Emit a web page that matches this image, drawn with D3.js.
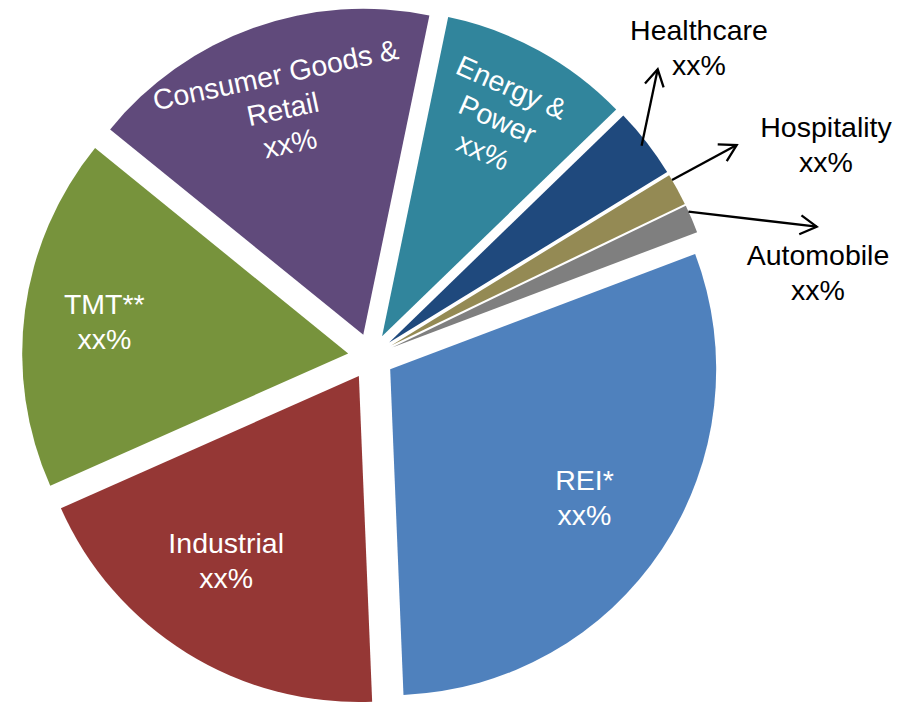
<!DOCTYPE html>
<html>
<head>
<meta charset="utf-8">
<script src="https://cdn.jsdelivr.net/npm/d3@7/dist/d3.min.js"></script>
<style>
  html, body { margin: 0; padding: 0; background: #fff; }
  svg { display: block; }
  text { font-family: "Liberation Sans", Arial, Helvetica, sans-serif; }
</style>
</head>
<body>
<svg id="chart" width="906" height="703"></svg>
<script>
// Sector split of the portfolio (percent of total)
const categories = ["REI*", "Industrial", "TMT**", "Consumer Goods & Retail",
                    "Energy & Power", "Healthcare", "Hospitality", "Automobile"];
const shares = [30.1, 19.0, 17.5, 17.4, 9.5, 3.5, 1.6, 1.4];
// Text shown for each slice's share
const shareLabels = ["xx%", "xx%", "xx%", "xx%", "xx%", "xx%", "xx%", "xx%"];
// How each category name is broken into lines
const nameLines = [["REI*"], ["Industrial"], ["TMT**"], ["Consumer Goods &", "Retail"],
                   ["Energy &", "Power"], ["Healthcare"], ["Hospitality"], ["Automobile"]];
const colors = ["#4F81BD", "#953735", "#77933C", "#604A7B",
                "#31859C", "#1F497D", "#948A54", "#7F7F7F"];

// ---- layout ----
const W = 906, H = 703;
const cx = 371, cy = 356.5;      // pie centre
const R = 326;                   // slice radius
const explode = 23;              // every slice pulled out by this much
const startDeg = 69.3;           // first slice starts here (clockwise from 12 o'clock)
const fontSize = 28.5;
const lineH = 35;

// label placement: inside labels sit along the slice, outside ones get an arrow
const labelLayout = {
  "REI*":                    { inside: true, r: 233, da: 0,   rot: 0 },
  "Industrial":              { inside: true, r: 227, da: 3.9, rot: 0 },
  "TMT**":                   { inside: true, r: 246, da: 0,   rot: 0 },
  "Consumer Goods & Retail": { inside: true, r: 240, da: 0,   rot: -12 },
  "Energy & Power":          { inside: true, r: 246, da: -0.8, rot: 24 },
  "Healthcare":  { inside: false, x: 699, y: 40,  t: 0.49, rr: 320, tip: [657.7, 69.3] },
  "Hospitality": { inside: false, x: 826, y: 137, t: 0.17, rr: 326, tip: [736.7, 145] },
  "Automobile":  { inside: false, x: 818, y: 265, t: 0.22, rr: 326, tip: [816.7, 226.7] }
};

const rad = d => d * Math.PI / 180;
// unit vector for an angle measured clockwise from 12 o'clock
const dir = a => [Math.sin(a), -Math.cos(a)];

const svg = d3.select("#chart");
const root = svg.append("g").attr("transform", `translate(${cx},${cy})`);

const pie = d3.pie()
  .sort(null)
  .value(d => d.value)
  .startAngle(rad(startDeg))
  .endAngle(rad(startDeg) + 2 * Math.PI);

const data = categories.map((c, i) => ({
  name: c, value: shares[i], share: shareLabels[i], lines: nameLines[i], color: colors[i]
}));
const arcs = pie(data);
const arc = d3.arc().innerRadius(0).outerRadius(R);

arcs.forEach(a => {
  a.mid = (a.startAngle + a.endAngle) / 2;
  const u = dir(a.mid);
  a.apex = [u[0] * explode, u[1] * explode];
});

// slices
root.selectAll("path.slice")
  .data(arcs)
  .join("path")
  .attr("class", "slice")
  .attr("transform", d => `translate(${d.apex[0]},${d.apex[1]})`)
  .attr("d", arc)
  .attr("fill", d => d.data.color);

const capHalf = fontSize * 0.716 / 2;

// inside labels
arcs.filter(d => labelLayout[d.data.name].inside).forEach(d => {
  const L = labelLayout[d.data.name];
  const u = dir(d.mid + rad(L.da));
  const px = d.apex[0] + u[0] * L.r, py = d.apex[1] + u[1] * L.r;
  const lines = d.data.lines.concat([d.data.share]);
  const n = lines.length;
  const t = root.append("text")
    .attr("transform", `translate(${px},${py}) rotate(${L.rot})`)
    .attr("text-anchor", "middle")
    .attr("fill", "#ffffff")
    .attr("font-size", fontSize);
  lines.forEach((s, i) => {
    t.append("tspan")
      .attr("x", 0)
      .attr("y", (i - (n - 1) / 2) * lineH + capHalf)
      .text(s);
  });
});

// outside labels with arrows
const arrowLen = 19, arrowHalf = rad(30);
arcs.filter(d => !labelLayout[d.data.name].inside).forEach(d => {
  const L = labelLayout[d.data.name];
  const a = d.startAngle + L.t * (d.endAngle - d.startAngle);
  const u = dir(a);
  const sx = cx + d.apex[0] + u[0] * L.rr, sy = cy + d.apex[1] + u[1] * L.rr;
  const [tx, ty] = L.tip;
  const back = Math.atan2(sy - ty, sx - tx);
  const h1 = [tx + arrowLen * Math.cos(back + arrowHalf), ty + arrowLen * Math.sin(back + arrowHalf)];
  const h2 = [tx + arrowLen * Math.cos(back - arrowHalf), ty + arrowLen * Math.sin(back - arrowHalf)];
  svg.append("line")
    .attr("x1", sx).attr("y1", sy).attr("x2", tx).attr("y2", ty)
    .attr("stroke", "#000").attr("stroke-width", 2.3);
  svg.append("path")
    .attr("d", `M${h1[0]},${h1[1]}L${tx},${ty}L${h2[0]},${h2[1]}`)
    .attr("fill", "none").attr("stroke", "#000").attr("stroke-width", 2.3)
    .attr("stroke-linejoin", "miter");

  const lines = d.data.lines.concat([d.data.share]);
  const t = svg.append("text")
    .attr("text-anchor", "middle")
    .attr("fill", "#000")
    .attr("font-size", fontSize);
  lines.forEach((s, i) => {
    t.append("tspan").attr("x", L.x).attr("y", L.y + i * 34.5).text(s);
  });
});
</script>
</body>
</html>
